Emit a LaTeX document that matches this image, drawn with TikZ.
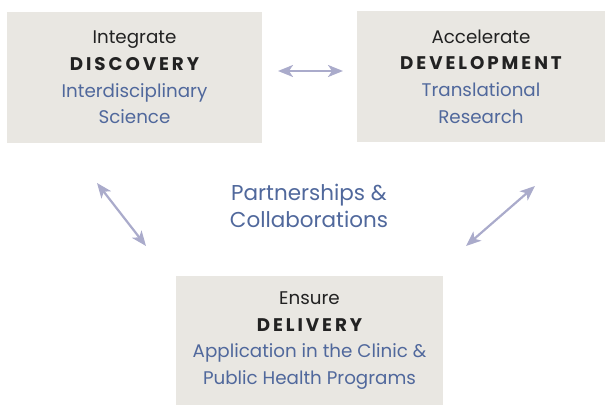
\documentclass[tikz,border=0pt]{standalone}
\usepackage{fontspec}
\setmainfont{Poppins}
\usetikzlibrary{arrows.meta}
\definecolor{boxgray}{HTML}{E9E7E2}
\definecolor{titlegray}{HTML}{222222}
\definecolor{subblue}{HTML}{50689C}
\definecolor{arrowlav}{HTML}{AAABCB}
\newcommand{\stagetitle}[1]{{\bfseries\addfontfeatures{LetterSpace=16}#1}}
\newcommand{\stagesub}[1]{{\color{subblue}#1}}

\begin{document}
\begin{tikzpicture}[x=1pt,y=-1pt,
    stagebox/.style={fill=boxgray,text=titlegray,align=center,inner sep=0pt,
      font=\fontsize{18.3}{26.7}\selectfont},
    link/.style={arrowlav,line width=2.2pt,
      {Stealth[length=15pt,width=12pt,inset=4pt]}-{Stealth[length=15pt,width=12pt,inset=4pt]}}]
  \useasboundingbox (0,0) rectangle (608,406);
  % the three stages
  \node[stagebox,minimum width=255pt,minimum height=131pt] (disc) at (134.5,77.5)
    {Integrate\\\stagetitle{DISCOVERY}\\\stagesub{Interdisciplinary}\\\stagesub{Science}};
  \node[stagebox,minimum width=248pt,minimum height=131pt] (dev) at (481,76.5)
    {Accelerate\\\stagetitle{DEVELOPMENT}\\\stagesub{Translational}\\\stagesub{Research}};
  \node[stagebox,minimum width=267pt,minimum height=129pt] (deliv) at (309.5,340.5)
    {Ensure\\\stagetitle{DELIVERY}\\\stagesub{Application in the Clinic \&}\\\stagesub{Public Health Programs}};
  % centre label
  \node[text=subblue,align=center,font=\fontsize{21.5}{27}\selectfont] (partner) at (309,206)
    {Partnerships \&\\Collaborations};
  % arrow ends
  \coordinate (discA) at (278,71);
  \coordinate (devA) at (343,71);
  \coordinate (discB) at (97,183);
  \coordinate (delivB) at (146,246);
  \coordinate (devC) at (535,186);
  \coordinate (delivC) at (466,246);
  \draw[link] (discA) -- (devA);
  \draw[link] (discB) -- (delivB);
  \draw[link] (delivC) -- (devC);
\end{tikzpicture}
\end{document}
